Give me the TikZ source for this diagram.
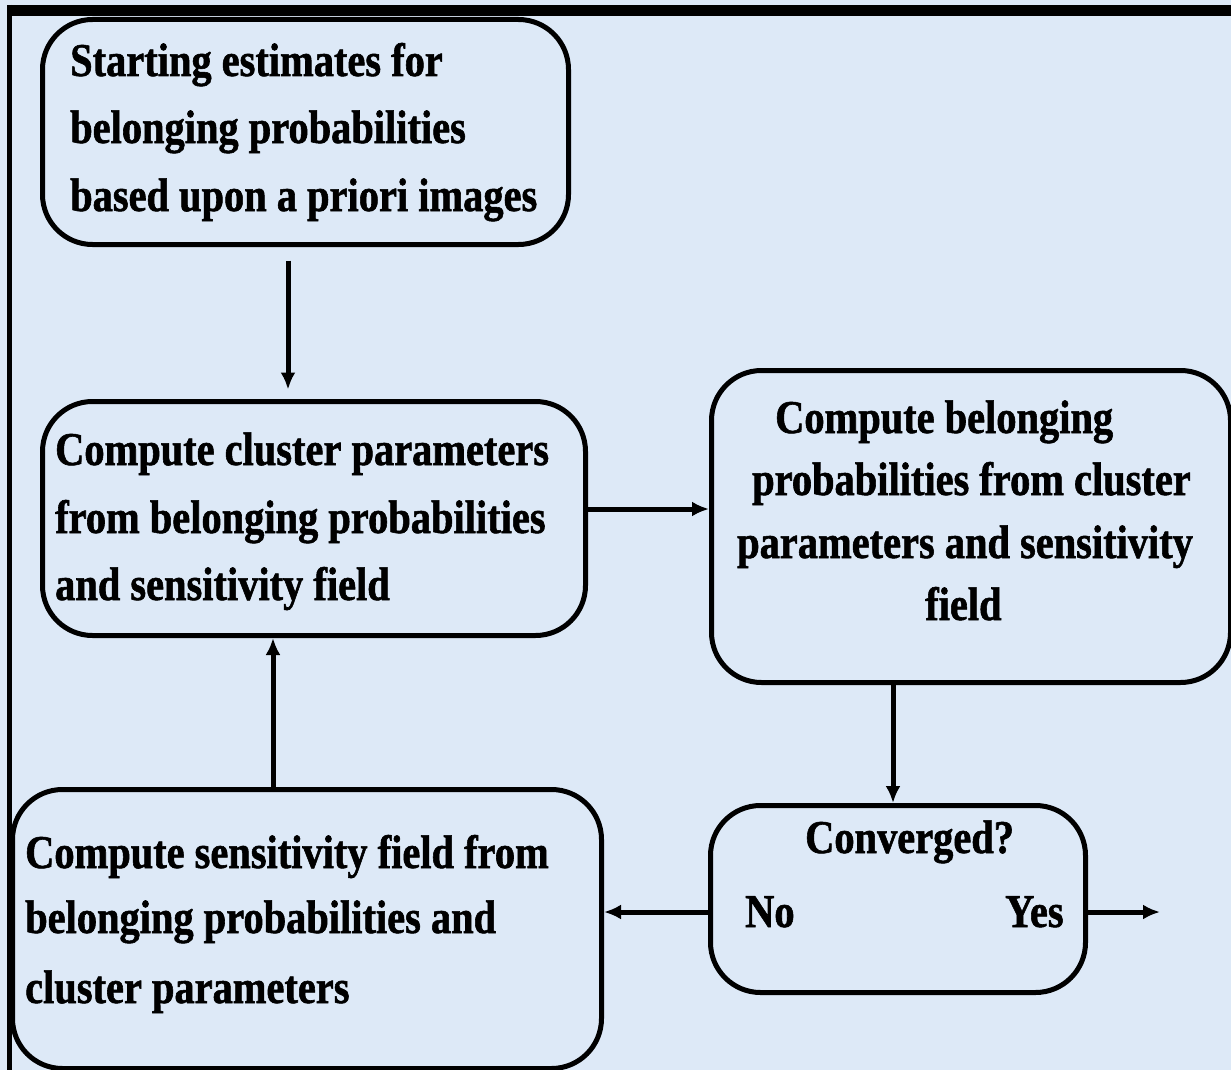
\documentclass[tikz,border=0pt]{standalone}
\usepackage{fontspec}
\setmainfont[FakeStretch=0.86, BoldFeatures={FakeBold=1.2}]{Liberation Serif}
\usetikzlibrary{arrows.meta}
\definecolor{bg}{RGB}{221,233,247}
\begin{document}
\begin{tikzpicture}[x=1pt,y=-1pt,
  box/.style={draw=black, line width=5pt, rounded corners=50pt, anchor=north west, inner sep=0pt},
  txt/.style={anchor=base west, inner sep=0pt, font=\fontsize{47}{67}\selectfont\bfseries},
  arr/.style={line width=5pt, -{Latex[length=17pt,width=15pt]}}]
\fill[bg] (0,0) rectangle (1231,1070);
\useasboundingbox (0,0) rectangle (1231,1070);
% frame
\draw[line width=11pt] (7,10.5) -- (1231,10.5);
\draw[line width=5pt] (9.5,5) -- (9.5,1070);
% boxes
\node[box, minimum width=526pt, minimum height=225pt] (A) at (40,17) {};
\node[box, minimum width=543pt, minimum height=234pt] (B) at (40,399) {};
\node[box, minimum width=519pt, minimum height=312pt] (C) at (709,368) {};
\node[box, minimum width=375pt, minimum height=187pt] (D) at (708,803) {};
\node[box, minimum width=589pt, minimum height=279pt] (E) at (10,787) {};
% texts
\node[txt] (a1) at (70,76) {Starting estimates for};
\node[txt] (a2) at (70,143) {belonging probabilities};
\node[txt] (a3) at (70,211) {based upon a priori images};
\node[txt] (b1) at (55,465) {Compute cluster parameters};
\node[txt] (b2) at (55,533) {from belonging probabilities};
\node[txt] (b3) at (55,600) {and sensitivity field};
\node[txt] (c1) at (775,433) {Compute belonging};
\node[txt] (c2) at (752,495) {probabilities from cluster};
\node[txt] (c3) at (737,558) {parameters and sensitivity};
\node[txt] (c4) at (925,620) {field};
\node[txt] (d1) at (805,853) {Converged?};
\node[txt] (d2) at (745,927) {No};
\node[txt] (d3) at (1005,927) {Yes};
\node[txt] (e1) at (25,868) {Compute sensitivity field from};
\node[txt] (e2) at (25,933) {belonging probabilities and};
\node[txt] (e3) at (25,1003) {cluster parameters};
% helper coordinates
\coordinate (xab) at (288,0);
\coordinate (ybc) at (0,509);
\coordinate (xcd) at (893,0);
\coordinate (yde) at (0,912);
\coordinate (xeb) at (273,0);
\coordinate (out) at (1160,912);
% connectors
\draw[arr, shorten <=13.5pt, shorten >=9.5pt] (A.south -| xab) -- (B.north -| xab);
\draw[arr] (B.east |- ybc) -- (C.west |- ybc);
\draw[arr] (C.south -| xcd) -- (D.north -| xcd);
\draw[arr] (D.west |- yde) -- (E.east |- yde);
\draw[arr] (E.north -| xeb) -- (B.south -| xeb);
\draw[arr] (D.east |- yde) -- (out);
\end{tikzpicture}
\end{document}
